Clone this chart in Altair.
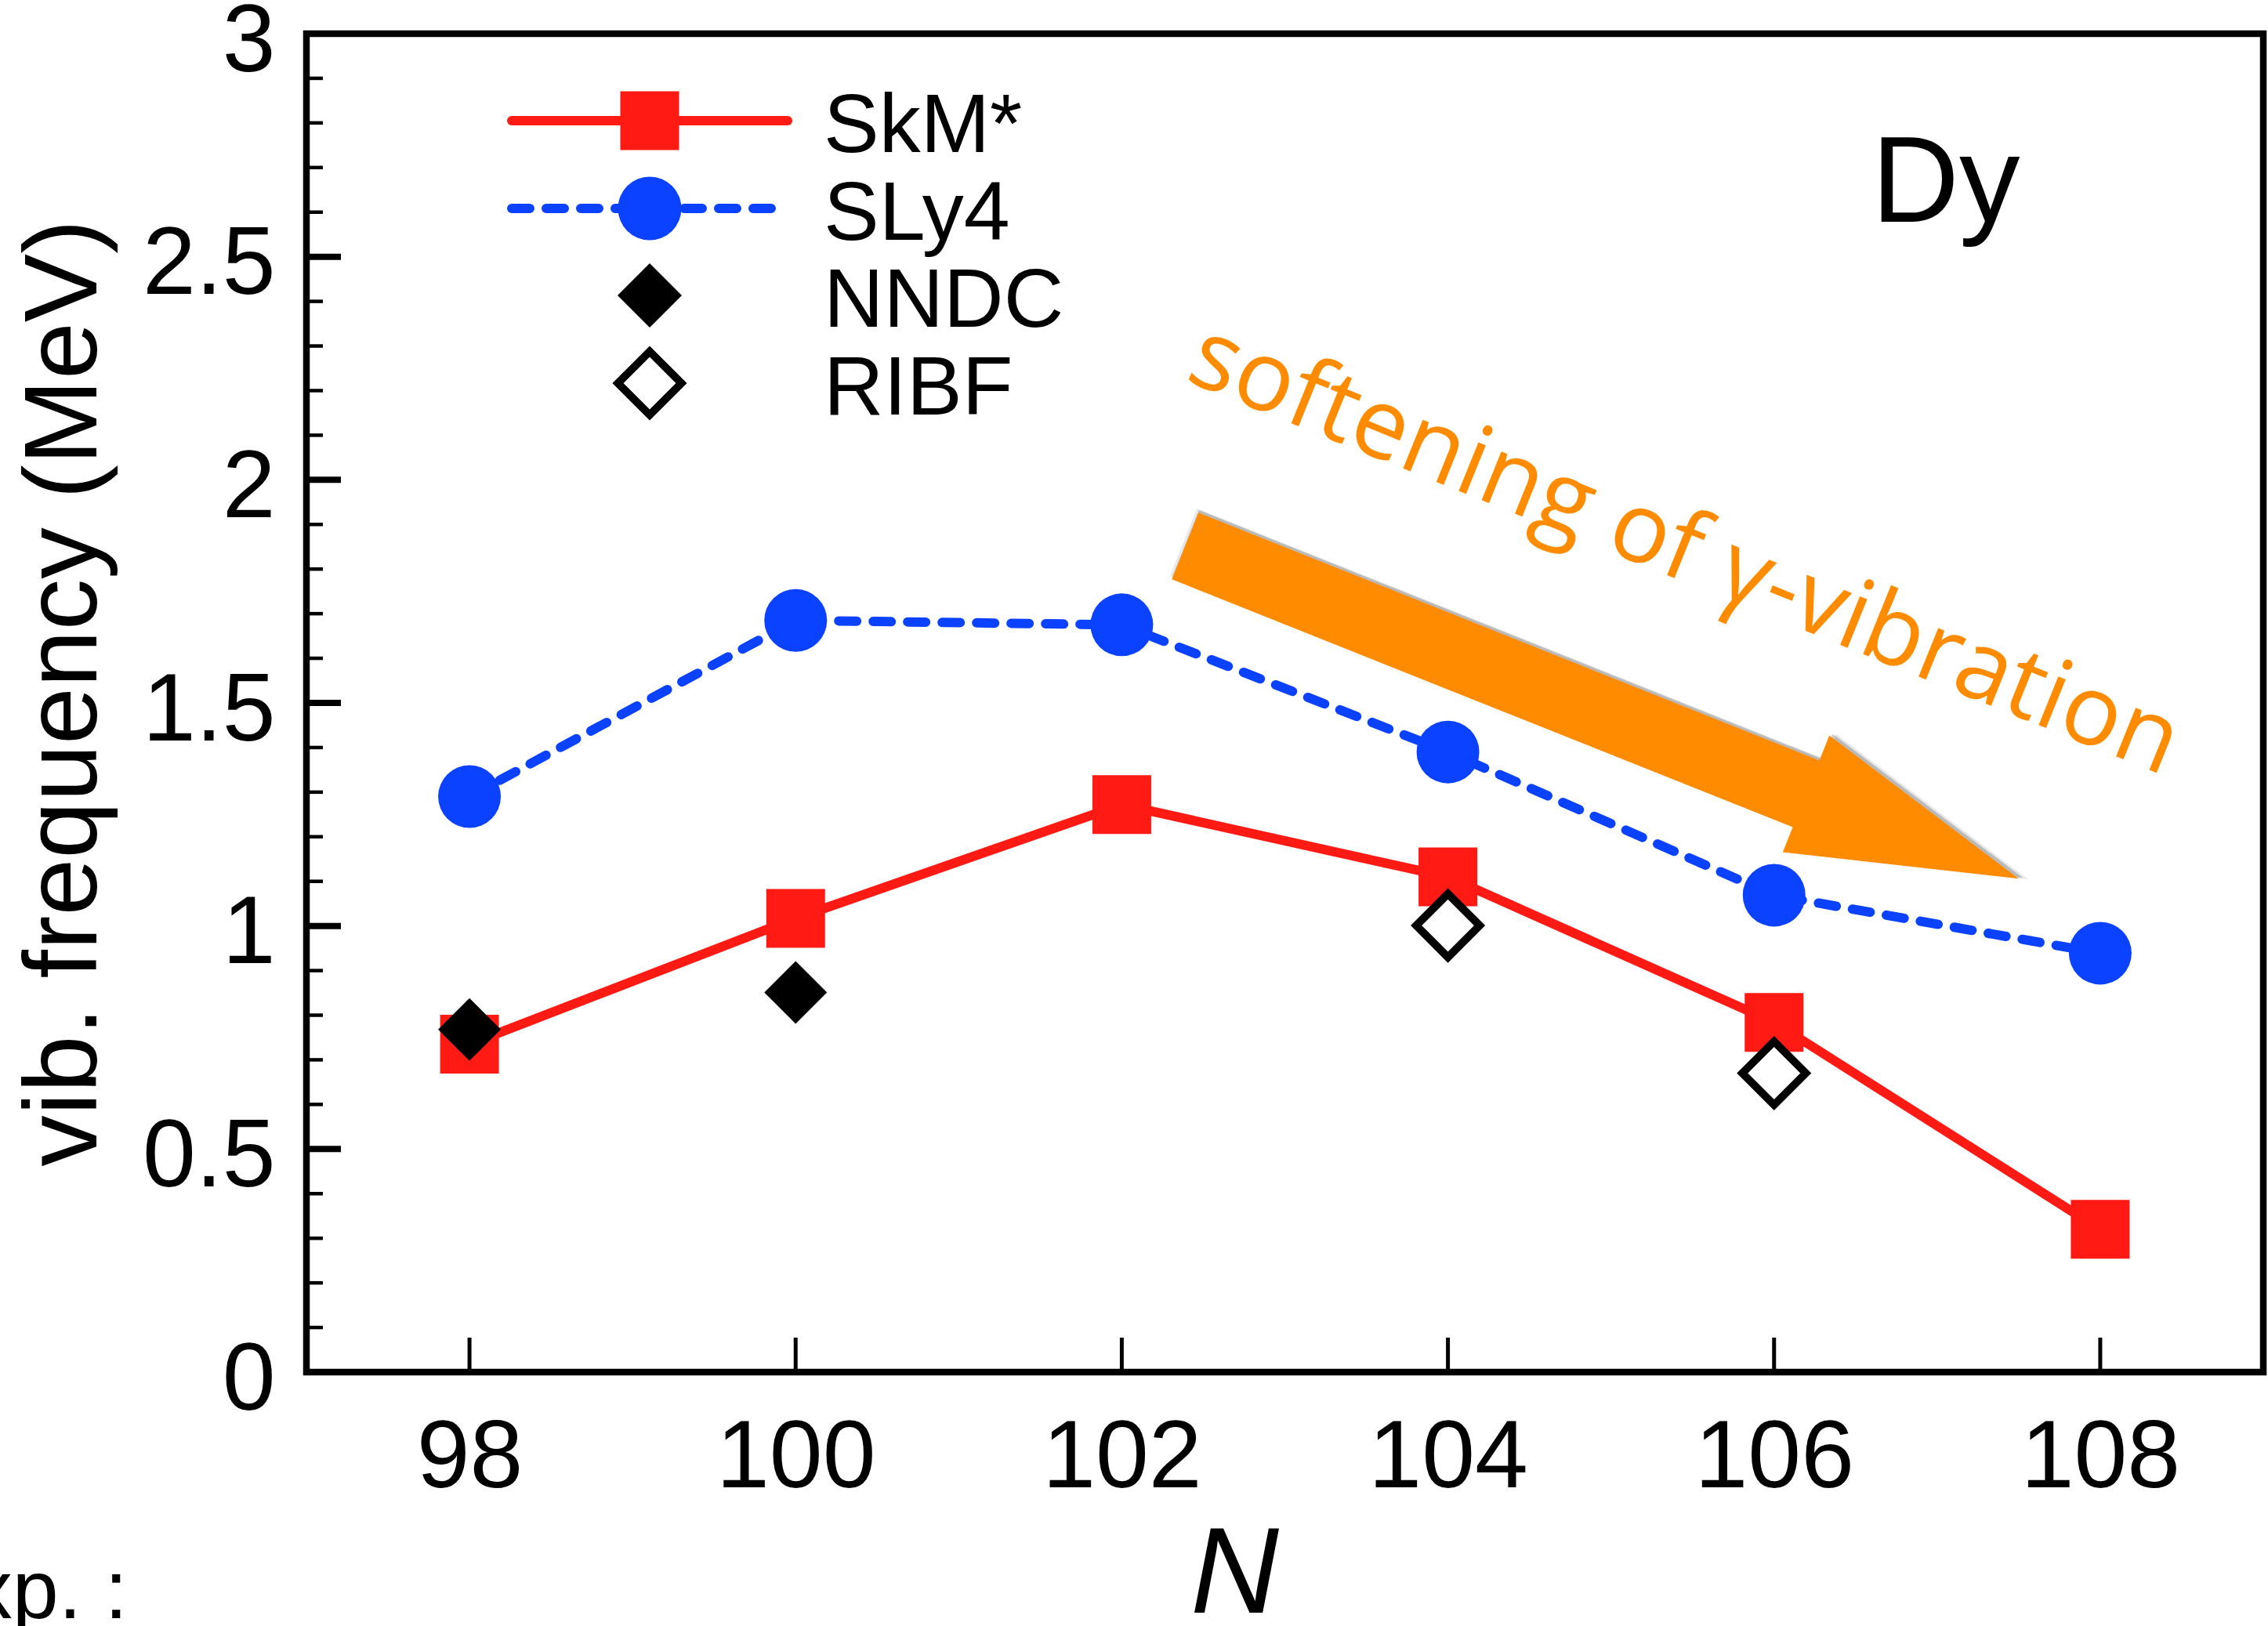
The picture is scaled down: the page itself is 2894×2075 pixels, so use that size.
import altair as alt
import pandas as pd

# ---------------- data ----------------
N = [98, 100, 102, 104, 106, 108]
SKM = [0.735, 1.017, 1.272, 1.110, 0.784, 0.320]
SLY4 = [1.290, 1.685, 1.675, 1.390, 1.069, 0.939]
NNDC_N = [98, 100]
NNDC = [0.768, 0.851]
RIBF_N = [104, 106]
RIBF = [1.001, 0.670]
LEGEND_LABELS = ["SkM*", "SLy4", "NNDC", "RIBF"]
X_TICKS = [98, 100, 102, 104, 106, 108]
Y_MAJOR = [0, 0.5, 1, 1.5, 2, 2.5, 3]
Y_MINOR = [0.1, 0.2, 0.3, 0.4, 0.6, 0.7, 0.8, 0.9, 1.1, 1.2, 1.3, 1.4,
           1.6, 1.7, 1.8, 1.9, 2.1, 2.2, 2.3, 2.4, 2.6, 2.7, 2.8, 2.9]
ELEMENT = "Dy"
ANNOTATION = "softening of \u03b3-vibration"
EXP_LABEL = "Exp. :"
X_TITLE = "N"
Y_TITLE = "vib. frequency (MeV)"

# ---------------- layout / style ----------------
W, H = 2497, 1708
PAD = {"left": 391, "top": 43, "right": 6, "bottom": 324}
X_DOM = [97, 109]
Y_DOM = [0, 3]
FONT = "Liberation Sans"
RED = "#ff1a14"
BLUE = "#0a42ff"
ORANGE = "#ff8c00"


def to_x(px):
    return X_DOM[0] + (px - PAD["left"]) * (X_DOM[1] - X_DOM[0]) / W


def to_y(py):
    return (PAD["top"] + H - py) * (Y_DOM[1] - Y_DOM[0]) / H


xs = alt.Scale(domain=X_DOM, nice=False, zero=False)
ys = alt.Scale(domain=Y_DOM, nice=False, zero=False)

xaxis = alt.Axis(values=X_TICKS, format="d", title=X_TITLE,
                 titleFont=FONT, titleFontSize=156, titleFontStyle="italic",
                 titleFontWeight="normal", titleColor="black",
                 titleX=1184, titleY=306, titleAlign="center",
                 titleBaseline="alphabetic",
                 labelFont=FONT, labelFontSize=122, labelColor="black",
                 labelPadding=50, labelLimit=2000, ticks=False, tickSize=0,
                 domain=False, grid=False, labelFlush=False, labelOverlap=False)
yaxis = alt.Axis(values=Y_MAJOR, format="~g", title=Y_TITLE,
                 titleFont=FONT, titleFontSize=131, titleFontWeight="normal",
                 titleColor="black", titleAngle=270, titleLimit=4000,
                 titleX=-269, titleY=841, titleAlign="center",
                 titleBaseline="alphabetic",
                 labelFont=FONT, labelFontSize=122, labelColor="black",
                 labelPadding=40, labelOffset=10, labelLimit=2000, ticks=False,
                 tickSize=0, domain=False, grid=False, labelFlush=False,
                 labelOverlap=False)


def X(f):
    return alt.X(f, type="quantitative", scale=xs, axis=xaxis)


def Y(f):
    return alt.Y(f, type="quantitative", scale=ys, axis=yaxis)


df = pd.DataFrame({"N": N, "skm": SKM, "sly4": SLY4})
df_nndc = pd.DataFrame({"N": NNDC_N, "E": NNDC})
df_ribf = pd.DataFrame({"N": RIBF_N, "E": RIBF})

# ---------------- inward ticks ----------------
tick_major = alt.Chart(pd.DataFrame({"v": Y_MAJOR})).mark_rule(
    color="black", strokeWidth=8).encode(
    y=Y("v"), x=alt.value(0), x2=alt.value(44))
tick_minor = alt.Chart(pd.DataFrame({"v": Y_MINOR})).mark_rule(
    color="black", strokeWidth=4.5).encode(
    y=Y("v"), x=alt.value(0), x2=alt.value(21))
tick_x = alt.Chart(pd.DataFrame({"v": X_TICKS})).mark_rule(
    color="black", strokeWidth=5).encode(
    x=X("v"), y=alt.value(H), y2=alt.value(H - 44))

# ---------------- arrow annotation ----------------
ARROW_PATH = "M-1,-0.08L0.49,-0.08L0.49,-0.14L1,0L0.49,0.14L0.49,0.08L-1,0.08Z"
arrow_df = pd.DataFrame({"x": [to_x(2044)], "y": [to_y(909)]})
arrow_shadow2 = alt.Chart(arrow_df).mark_point(
    shape=ARROW_PATH, filled=True, color="#777777", opacity=0.18,
    size=1160 ** 2, angle=21.76, xOffset=5, yOffset=-2).encode(
    x=X("x"), y=Y("y"))
arrow_shadow = alt.Chart(arrow_df).mark_point(
    shape=ARROW_PATH, filled=True, color="#555555", opacity=0.3,
    size=1150 ** 2, angle=21.76, xOffset=3, yOffset=-2).encode(
    x=X("x"), y=Y("y"))
arrow = alt.Chart(arrow_df).mark_point(
    shape=ARROW_PATH, filled=True, color=ORANGE, opacity=1,
    size=1145 ** 2, angle=21.76).encode(x=X("x"), y=Y("y"))

ann_df = pd.DataFrame({"x": [to_x(2150)], "y": [to_y(702)], "t": [ANNOTATION]})
ann_text = alt.Chart(ann_df).mark_text(
    font="Open Sans", fontSize=125, color=ORANGE, angle=22,
    align="center", baseline="middle").encode(
    x=X("x"), y=Y("y"), text="t:N")

# ---------------- data series ----------------
sly4_line = alt.Chart(df).mark_line(
    color=BLUE, strokeWidth=12, strokeDash=[23, 21], strokeCap="round").encode(
    x=X("N"), y=Y("sly4"))
skm_line = alt.Chart(df).mark_line(color=RED, strokeWidth=12).encode(
    x=X("N"), y=Y("skm"))
sly4_pts = alt.Chart(df).mark_point(
    shape="circle", filled=True, color=BLUE, opacity=1, size=80 ** 2).encode(
    x=X("N"), y=Y("sly4"))
skm_pts = alt.Chart(df).mark_point(
    shape="square", filled=True, color=RED, opacity=1, size=75 ** 2).encode(
    x=X("N"), y=Y("skm"))
nndc_pts = alt.Chart(df_nndc).mark_point(
    shape="diamond", filled=True, color="black", opacity=1, size=80 ** 2).encode(
    x=X("N"), y=Y("E"))
ribf_pts = alt.Chart(df_ribf).mark_point(
    shape="diamond", filled=True, fill="white", stroke="black", strokeWidth=10,
    opacity=1, size=81 ** 2).encode(x=X("N"), y=Y("E"))

# ---------------- legend (inside the frame) ----------------
LEG_ROW_PY = [154, 266, 377, 489]
leg = pd.DataFrame({
    "label": LEGEND_LABELS,
    "yc": [to_y(p) for p in LEG_ROW_PY],
    "yt": [to_y(p + 40) for p in LEG_ROW_PY],
    "xs": [to_x(829)] * 4,
    "xt": [to_x(1051)] * 4,
    "x1": [to_x(653)] * 4,
    "x2": [to_x(1005)] * 4,
})
leg_red_line = alt.Chart(leg.iloc[[0]]).mark_rule(
    color=RED, strokeWidth=12, strokeCap="round").encode(
    x=X("x1"), x2="x2", y=Y("yc"))
leg_blue_line = alt.Chart(leg.iloc[[1]]).mark_rule(
    color=BLUE, strokeWidth=12, strokeCap="round", strokeDash=[23, 21]).encode(
    x=X("x1"), x2="x2", y=Y("yc"))
leg_sq = alt.Chart(leg.iloc[[0]]).mark_point(
    shape="square", filled=True, color=RED, opacity=1, size=75 ** 2).encode(
    x=X("xs"), y=Y("yc"))
leg_ci = alt.Chart(leg.iloc[[1]]).mark_point(
    shape="circle", filled=True, color=BLUE, opacity=1, size=81 ** 2).encode(
    x=X("xs"), y=Y("yc"))
leg_di = alt.Chart(leg.iloc[[2]]).mark_point(
    shape="diamond", filled=True, color="black", opacity=1, size=82 ** 2).encode(
    x=X("xs"), y=Y("yc"))
leg_odi = alt.Chart(leg.iloc[[3]]).mark_point(
    shape="diamond", filled=True, fill="white", stroke="black", strokeWidth=10,
    opacity=1, size=81 ** 2).encode(x=X("xs"), y=Y("yc"))
leg_txt = alt.Chart(leg).mark_text(
    font=FONT, fontSize=106, color="black", align="left",
    baseline="alphabetic").encode(x=X("xt"), y=Y("yt"), text="label:N")

# ---------------- other texts ----------------
dy_df = pd.DataFrame({"x": [to_x(2388)], "y": [to_y(283)], "t": [ELEMENT]})
dy_txt = alt.Chart(dy_df).mark_text(
    font=FONT, fontSize=155, color="black", align="left",
    baseline="alphabetic").encode(x=X("x"), y=Y("y"), text="t:N")

exp_df = pd.DataFrame({"x": [to_x(163)], "y": [to_y(2065)], "t": [EXP_LABEL]})
exp_txt = alt.Chart(exp_df).mark_text(
    font=FONT, fontSize=106, color="black", align="right",
    baseline="alphabetic").encode(x=X("x"), y=Y("y"), text="t:N")

chart = alt.layer(
    tick_major, tick_minor, tick_x,
    arrow_shadow2, arrow_shadow, arrow, ann_text,
    sly4_line, skm_line, sly4_pts, skm_pts, nndc_pts, ribf_pts,
    leg_red_line, leg_blue_line, leg_sq, leg_ci, leg_di, leg_odi, leg_txt,
    dy_txt, exp_txt,
).properties(
    width=W, height=H,
    autosize=alt.AutoSizeParams(type="none"),
    padding=PAD,
    background="white",
).configure_view(stroke="black", strokeWidth=8.5)

chart.save("out.html", embed_options={"renderer": "svg", "actions": False})
